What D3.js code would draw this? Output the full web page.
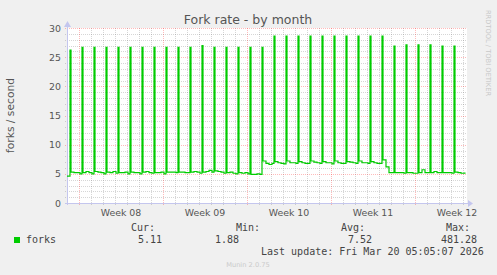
<!DOCTYPE html>
<html>
<head>
<meta charset="utf-8">
<script src="https://cdn.jsdelivr.net/npm/d3@7"></script>
<style>
  html, body { margin: 0; padding: 0; background: #f0f0f0; }
  svg { display: block; }
</style>
</head>
<body>
<script>
// munin "fork rate - by month", 2h resolution
const title = "Fork rate - by month";
const yLabel = "forks / second";
const seriesName = "forks";

const startTime = new Date(Date.UTC(2026, 1, 15, 0));   // left edge
const endTime   = new Date(Date.UTC(2026, 2, 20, 8));   // right edge
const lastData  = new Date(Date.UTC(2026, 2, 20, 5, 5));

const yTicks = [0, 5, 10, 15, 20, 25, 30];

// value before the first daily spike
const firstValue = 4.6;
// daily cron spike (06:00 sample), one per day from Feb 15
const spikeHour = 6;
const spikeValues = [
  26.2, 26.7, 26.7, 26.7, 26.7, 26.7, 26.7, 26.7, 26.7, 26.7, 26.7,
  27.0, 26.7, 26.7, 26.7, 26.7, 26.7,
  28.6, 28.6, 28.6, 28.6, 28.6, 28.6, 28.6, 28.6, 28.6, 28.6,
  26.9, 27.1, 27.1, 27.1, 26.9, 26.9
];
// baseline after each spike, read at these hours of the day (26 = 02:00 next day)
const baseHours = [8, 14, 20, 26];
const baseValues = [
  [5.3, 5.2, 5.2, 5.0], [5.2, 5.4, 5.2, 5.0], [5.4, 5.3, 5.2, 5.0], [5.3, 5.2, 5.4, 5.1],
  [5.2, 5.2, 5.3, 5.0], [5.3, 5.2, 5.2, 5.0], [5.3, 5.4, 5.2, 5.1], [5.2, 5.2, 5.3, 5.0],
  [5.3, 5.3, 5.3, 5.2], [5.3, 5.3, 5.2, 5.2], [5.3, 5.4, 5.3, 5.1], [5.3, 5.4, 5.6, 5.3],
  [5.5, 5.4, 5.3, 5.1], [5.2, 5.3, 5.1, 5.0], [5.2, 5.1, 5.2, 5.0], [4.9, 4.9, 5.0, 4.9],
  [7.2, 6.8, 6.6, 6.8], [7.1, 6.9, 6.8, 6.7], [7.2, 6.9, 6.9, 6.8], [7.1, 6.9, 6.8, 6.8],
  [7.2, 7.0, 6.9, 6.8], [7.1, 6.9, 6.9, 6.7], [7.2, 6.9, 6.8, 6.8], [7.1, 7.0, 6.9, 6.8],
  [7.2, 6.9, 6.9, 6.8], [7.1, 6.9, 6.8, 6.8], [7.4, 6.2, 5.2, 5.2], [5.2, 5.2, 5.2, 5.1],
  [5.2, 5.2, 5.1, 5.1], [5.2, 5.7, 5.2, 5.2], [5.2, 5.4, 5.2, 5.2], [5.2, 5.2, 5.2, 5.1],
  [5.3, 5.2, 5.1, 5.11]
];

const legendHeads = ["Cur:", "Min:", "Avg:", "Max:"];
const legendValues = ["5.11", "1.88", "7.52", "481.28"];
const lastUpdate = "Last update: Fri Mar 20 05:05:07 2026";
const watermark = "Munin 2.0.75";
const sideMark = "RRDTOOL / TOBI OETIKER";

// build the step series
const HOUR = 3600 * 1000;
const points = [{ t: startTime, v: firstValue }];
spikeValues.forEach((s, i) => {
  const day = d3.utcDay.offset(startTime, i);
  points.push({ t: new Date(+day + spikeHour * HOUR), v: s });
  baseHours.forEach((h, j) => {
    const t = new Date(+day + h * HOUR);
    if (t < lastData) points.push({ t, v: baseValues[i][j] });
  });
});
points.push({ t: lastData, v: points[points.length - 1].v });

const width = 497, height = 275;
const plotLeft = 67, plotTop = 28, plotW = 400, plotH = 175;

const x = d3.scaleUtc([startTime, endTime], [plotLeft, plotLeft + plotW]);
const y = d3.scaleLinear([0, 30], [plotTop + plotH, plotTop]);
const px = v => Math.round(v) + 0.5;

const svg = d3.select("body").append("svg")
  .attr("width", width)
  .attr("height", height)
  .style("font-family", "'DejaVu Sans', sans-serif");

svg.append("rect")
  .attr("width", width).attr("height", height)
  .attr("fill", "#f0f0f0");

svg.append("rect")
  .attr("x", plotLeft).attr("y", plotTop)
  .attr("width", plotW).attr("height", plotH)
  .attr("fill", "#fff");

const grid = svg.append("g").attr("fill", "none").attr("stroke-dasharray", "1,1");
const minorColor = "rgba(102,102,102,0.27)";
const majorColor = "rgba(255,0,0,0.27)";

// horizontal minor grid (every 1)
grid.selectAll(".hmin")
  .data(d3.range(1, 31).filter(v => v % 5 !== 0))
  .join("line")
  .attr("x1", plotLeft - 2).attr("x2", plotLeft + plotW)
  .attr("y1", d => px(y(d))).attr("y2", d => px(y(d)))
  .attr("stroke", minorColor);

// vertical minor grid (days)
const mondays = d3.utcMonday.range(startTime, endTime);
grid.selectAll(".vmin")
  .data(d3.utcDay.range(d3.utcDay.offset(startTime, 1), endTime)
    .filter(d => d3.utcMonday.floor(d) - d !== 0))
  .join("line")
  .attr("x1", d => px(x(d))).attr("x2", d => px(x(d)))
  .attr("y1", plotTop).attr("y2", plotTop + plotH + 2)
  .attr("stroke", minorColor);

// major grid
grid.selectAll(".hmaj")
  .data(yTicks.filter(v => v > 0))
  .join("line")
  .attr("x1", plotLeft - 2).attr("x2", plotLeft + plotW)
  .attr("y1", d => px(y(d))).attr("y2", d => px(y(d)))
  .attr("stroke", majorColor);

grid.selectAll(".vmaj")
  .data(mondays)
  .join("line")
  .attr("x1", d => px(x(d))).attr("x2", d => px(x(d)))
  .attr("y1", plotTop).attr("y2", plotTop + plotH + 3)
  .attr("stroke", majorColor);

// axes
const axisColor = "#c4c6ee";
svg.append("line")
  .attr("x1", plotLeft - 2).attr("x2", plotLeft + plotW + 3)
  .attr("y1", px(y(0))).attr("y2", px(y(0)))
  .attr("stroke", axisColor);
svg.append("line")
  .attr("x1", px(plotLeft)).attr("x2", px(plotLeft))
  .attr("y1", plotTop + plotH + 2).attr("y2", plotTop - 4)
  .attr("stroke", axisColor);
svg.append("path")
  .attr("d", `M${plotLeft + plotW + 1},${y(0) - 3}L${plotLeft + plotW + 6},${y(0) + 0.5}L${plotLeft + plotW + 1},${y(0) + 4}Z`)
  .attr("fill", axisColor);
svg.append("path")
  .attr("d", `M${plotLeft - 3},${plotTop - 1}L${plotLeft + 0.5},${plotTop - 7}L${plotLeft + 4},${plotTop - 1}Z`)
  .attr("fill", axisColor);

// y tick labels
svg.append("g")
  .attr("font-size", 9.4).attr("fill", "#555").attr("text-anchor", "end")
  .selectAll("text")
  .data(yTicks)
  .join("text")
  .attr("x", plotLeft - 6)
  .attr("y", d => y(d) + 3.5)
  .text(d => d);

// week labels, centred on the week
svg.append("g")
  .attr("font-size", 9.4).attr("fill", "#555").attr("text-anchor", "middle")
  .selectAll("text")
  .data(mondays)
  .join("text")
  .attr("x", d => x(new Date(+d + 3.5 * 24 * HOUR)))
  .attr("y", 216)
  .text(d => "Week " + d3.utcFormat("%V")(d));

// data line
const line = d3.line()
  .x(d => x(d.t))
  .y(d => y(d.v))
  .curve(d3.curveStepAfter);

svg.append("path")
  .datum(points)
  .attr("fill", "none")
  .attr("stroke", "#00cc00")
  .attr("stroke-width", 1.2)
  .attr("d", line);

// title and labels
svg.append("text")
  .attr("x", 248).attr("y", 24)
  .attr("text-anchor", "middle")
  .attr("font-size", 12.5).attr("fill", "#555")
  .text(title);

svg.append("text")
  .attr("transform", `translate(14,${plotTop + plotH / 2}) rotate(-90)`)
  .attr("text-anchor", "middle")
  .attr("font-size", 10.7).attr("fill", "#555")
  .text(yLabel);

svg.append("text")
  .attr("transform", "translate(486,53) rotate(90)")
  .attr("text-anchor", "middle")
  .attr("font-size", 6.7).attr("fill", "#c8c8c8")
  .text(sideMark);

// legend
const legend = svg.append("g")
  .style("font-family", "'DejaVu Sans Mono', monospace")
  .attr("font-size", 10).attr("fill", "#444");

legend.append("rect")
  .attr("x", 14).attr("y", 237).attr("width", 6).attr("height", 6)
  .attr("fill", "#00cc00");
legend.append("text").attr("x", 26).attr("y", 243).text(seriesName);

legend.selectAll(".head")
  .data(legendHeads)
  .join("text")
  .attr("x", (d, i) => 131 + i * 105)
  .attr("y", 231)
  .text(d => d);

legend.selectAll(".val")
  .data(legendValues)
  .join("text")
  .attr("text-anchor", "end")
  .attr("x", (d, i) => [162, 239, 372, 477][i])
  .attr("y", 243)
  .text(d => d);

legend.append("text")
  .attr("x", 261).attr("y", 255)
  .text(lastUpdate);

svg.append("text")
  .attr("x", 248).attr("y", 267)
  .attr("text-anchor", "middle")
  .attr("font-size", 6.7).attr("fill", "#cacaca")
  .text(watermark);
</script>
</body>
</html>
